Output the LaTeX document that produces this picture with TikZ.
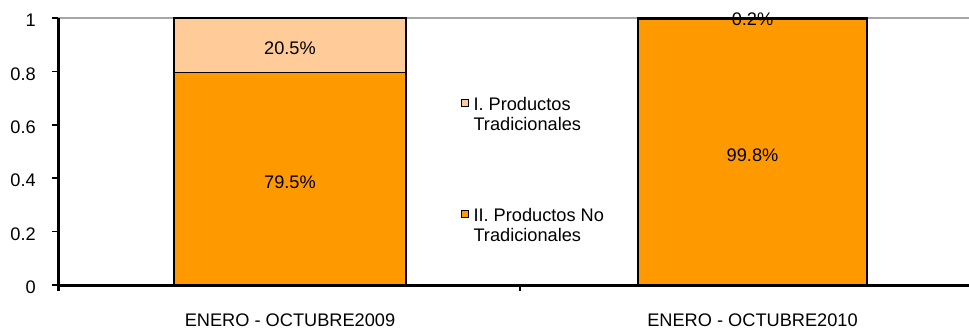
\documentclass[tikz,border=0pt]{standalone}
\usepackage{fontspec}
\setmainfont{Liberation Sans}
\usetikzlibrary{positioning}
\definecolor{tradcolor}{HTML}{FFCC99}
\definecolor{notradcolor}{HTML}{FF9900}

\begin{document}
\begin{tikzpicture}[x=1pt,y=-1pt]
      \tikzstyle{bar}=[draw=black, line width=1.6pt]
      \tikzstyle{axis}=[line width=3pt, black]
      \tikzstyle{tick}=[line width=1.5pt, black]
      \tikzstyle{label}=[font=\fontsize{18.2}{20}\selectfont, inner sep=0pt]
      \tikzstyle{legendbox}=[rectangle, draw=black, line width=1.2pt, minimum size=7pt, inner sep=0pt]

      \useasboundingbox (0,0) rectangle (969,329);

      % grid line
      \draw[gray!70, line width=1.5pt] (58,18) -- (969,18);

      % bars
      \draw[bar, fill=notradcolor] (174,72.7) rectangle (406,285);
      \draw[bar, fill=tradcolor] (174,18) rectangle (406,72.7);
      \draw[bar, fill=notradcolor] (638,18.5) rectangle (867,285);
      \draw[bar, fill=tradcolor, line width=2.5pt] (638,18) rectangle (867,18.5);

      % axes
      \draw[axis] (58,18) -- (58,291);
      \draw[axis] (58,285) -- (969,285);
      \draw[tick] (520,285) -- (520,291);
      \foreach \v/\t in {0/0, 1/0.2, 2/0.4, 3/0.6, 4/0.8, 5/1} {
        \draw[tick] (52,285-\v*53.4) -- (58,285-\v*53.4);
        \node[label, anchor=east] (ylab\v) at (36,287.5-\v*53.4) {\t};
      }

      % values
      \node[label] (trad09) at (290,48) {20.5\%};
      \node[label] (notrad09) at (290,182.5) {79.5\%};
      \node[label] (trad10) at (752.5,19.7) {0.2\%};
      \node[label] (notrad10) at (752.5,155) {99.8\%};

      % categories
      \node[label, anchor=base] (cat09) at (290,326.5) {ENERO - OCTUBRE2009};
      \node[label, anchor=base] (cat10) at (752.5,326.5) {ENERO - OCTUBRE2010};

      % legend
      \node[legendbox, fill=tradcolor] (legtrad) at (465,102.7) {};
      \node[legendbox, fill=notradcolor] (legnotrad) [below=102.8pt of legtrad] {};
      \node[label, align=left, anchor=north west] (legtradtext) at (473.3,97.3) {I. Productos\\Tradicionales};
      \node[label, align=left, anchor=north west] (legnotradtext) at (473.3,208.3) {II. Productos No\\Tradicionales};

\end{tikzpicture}
\end{document}
